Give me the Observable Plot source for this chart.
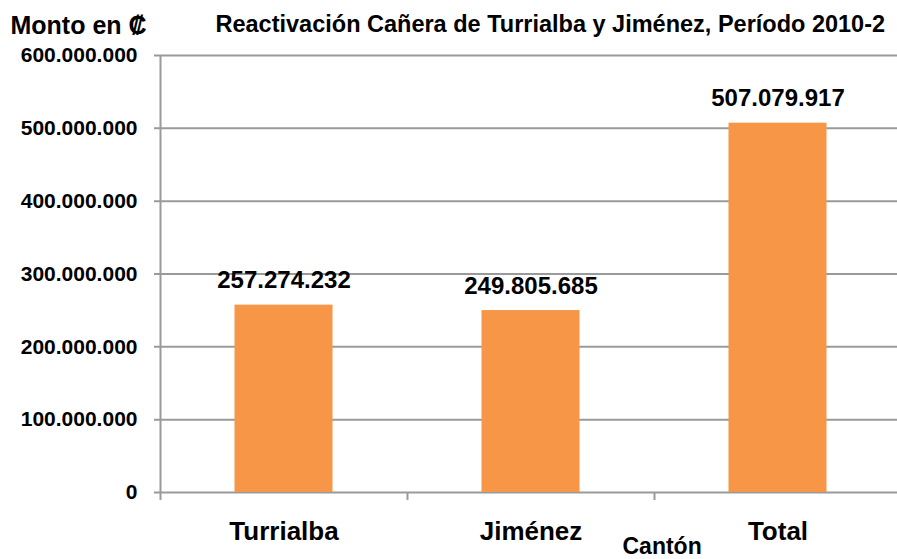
<!DOCTYPE html>
<html>
<head>
<meta charset="utf-8">
<script src="https://cdn.jsdelivr.net/npm/d3@7"></script>
<script src="https://cdn.jsdelivr.net/npm/@observablehq/plot@0.6"></script>
<style>
  html, body { margin: 0; padding: 0; background: #fff; }
  #chart svg { display: block; }
</style>
</head>
<body>
<div id="chart"></div>
<script>
const cantones = ["Turrialba", "Jiménez", "Total"];
const montos = [257274232, 249805685, 507079917];
const yTicks = [0, 100000000, 200000000, 300000000, 400000000, 500000000, 600000000];
const titulo = "Reactivación Cañera de Turrialba y Jiménez, Período 2010-2";
const etiquetaY = "Monto en ₡";
const etiquetaX = "Cantón";

const data = cantones.map((c, i) => ({canton: c, monto: montos[i]}));
const fmt = d3.formatLocale({decimal: ",", thousands: ".", grouping: [3], currency: ["", ""]}).format(",");

const FONT = "Liberation Sans, Arial, Helvetica, sans-serif";
const GRID = "#9a9a9a";
const half = (901 - 160) / cantones.length / 2;

const chart = Plot.plot({
  width: 897,
  height: 559,
  marginLeft: 154,
  marginRight: 0,
  marginTop: 55,
  marginBottom: 67,
  style: {fontFamily: FONT, fontWeight: "bold", color: "#000", background: "#fff", overflow: "hidden"},
  x: {domain: cantones, range: [160, 901], padding: 0},
  y: {domain: [0, 600000000], range: [492, 55]},
  marks: [
    Plot.ruleY(yTicks, {y: d => d, stroke: GRID, strokeWidth: 2}),
    Plot.ruleX([cantones[0]], {x: d => d, dx: -half, y1: () => 600000000, y2: () => 0, insetBottom: -8, stroke: GRID, strokeWidth: 2}),
    Plot.ruleX(cantones.slice(1), {x: d => d, dx: -half, y1: () => 0, y2: () => 0, insetBottom: -8, stroke: GRID, strokeWidth: 2}),
    Plot.barY(data, {x: "canton", y: "monto", fill: "#F79646", insetLeft: 74.5, insetRight: 74.5}),
    Plot.text(data, {x: "canton", y: "monto", text: d => fmt(d.monto), dy: -17, lineAnchor: "bottom", fontSize: 24, fontWeight: "bold", fill: "#000"}),
    Plot.axisY({ticks: yTicks, tickSize: 0, tickPadding: 17, tickFormat: fmt, fontSize: 21, fontWeight: "bold", label: null}),
    Plot.axisX({tickSize: 0, tickPadding: 29, fontSize: 26, fontWeight: "bold", label: null}),
    Plot.text([etiquetaY], {frameAnchor: "top-left", text: d => d, dx: -144, dy: -22, lineAnchor: "bottom", textAnchor: "start", fontSize: 25, fontWeight: "bold", fill: "#000"}),
    Plot.text([titulo], {frameAnchor: "top-left", text: d => d, dx: 61, dy: -24, lineAnchor: "bottom", textAnchor: "start", fontSize: 23.5, fontWeight: "bold", fill: "#000"}),
    Plot.text([etiquetaX], {frameAnchor: "bottom-left", text: d => d, dx: 468, dy: 61, lineAnchor: "bottom", textAnchor: "start", fontSize: 23, fontWeight: "bold", fill: "#000"})
  ]
});
document.getElementById("chart").appendChild(chart);
</script>
</body>
</html>
